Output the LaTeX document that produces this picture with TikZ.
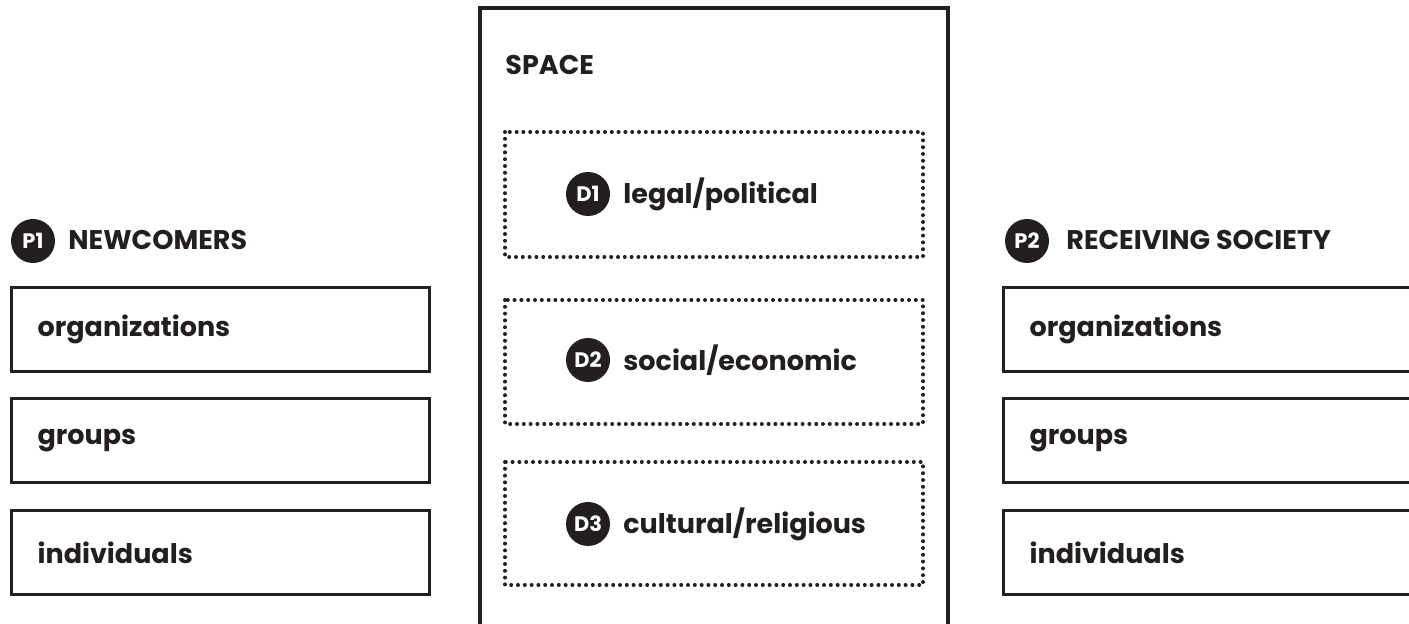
\documentclass[tikz,border=0pt]{standalone}
\usepackage{fontspec}
\setmainfont{Poppins}
\usetikzlibrary{positioning}
\definecolor{ink}{HTML}{231F20}
\tikzset{
    entry/.style={draw=ink, line width=1.6pt, minimum width=209pt, minimum height=42pt,
        text width=183pt, inner xsep=13pt, align=left, anchor=north west,
        font=\bfseries\fontsize{13.5}{16}\selectfont, text=ink},
    badge/.style={circle, fill=ink, text=white, minimum size=22pt, inner sep=0pt,
        font=\bfseries\fontsize{10.5}{12}\selectfont},
    heading/.style={anchor=base west, font=\bfseries\fontsize{13.5}{16}\selectfont, text=ink, inner sep=0pt},
    dimbox/.style={draw=ink, line width=2pt, line cap=round, dash pattern=on 0pt off 3.4pt},
}
\begin{document}
\begin{tikzpicture}[x=0.5pt, y=-0.5pt]
    \useasboundingbox (0,0) rectangle (1409,624);
    % newcomers
    \node[badge] (p1) at (33,241) {P1};
    \node[heading] (newc) at (68,250) {NEWCOMERS};
    \node[entry] (norg) at (10,286) {organizations};
    \node[entry] (ngrp) at (10,397) {groups};
    \node[entry] (nind) at (10,509) {individuals};
    % space
    \draw[draw=ink, line width=1.6pt] (480,640) -- (480,8) -- (948,8) -- (948,640);
    \node[heading] (space) at (505,75) {SPACE};
    \draw[dimbox] (505,132) rectangle (923,257);
    \draw[dimbox] (505,300) rectangle (923,424);
    \draw[dimbox] (505,462) rectangle (923,585);
    \node[heading, anchor=west] (d1t) at (623,194) {legal/political};
    \node[heading, anchor=west] (d2t) at (623,360) {social/economic};
    \node[heading, anchor=west] (d3t) at (623,524) {cultural/religious};
    \node[badge, left=17.5pt of d1t.west, anchor=center] (d1) {D1};
    \node[badge, left=17.5pt of d2t.west, anchor=center] (d2) {D2};
    \node[badge, left=17.5pt of d3t.west, anchor=center] (d3) {D3};
    % receiving society
    \node[badge] (p2) at (1027,241) {P2};
    \node[heading] (recv) at (1066,250) {RECEIVING SOCIETY};
    \node[entry] (rorg) at (1002,286) {organizations};
    \node[entry] (rgrp) at (1002,397) {groups};
    \node[entry] (rind) at (1002,509) {individuals};
\end{tikzpicture}
\end{document}
